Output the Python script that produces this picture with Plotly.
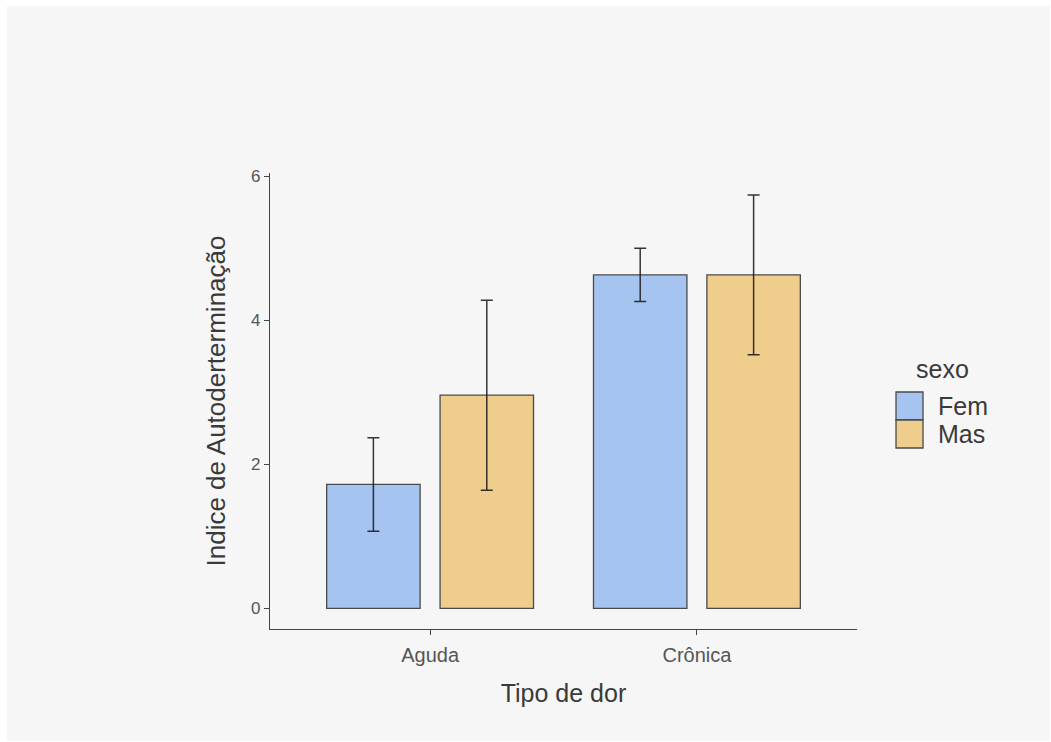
import plotly.graph_objects as go

categories = ["Aguda", "Crônica"]
series_names = ["Fem", "Mas"]
fem_means = [1.72, 4.63]
fem_errors = [0.65, 0.37]
mas_means = [2.96, 4.63]
mas_errors = [1.32, 1.11]
y_ticks = [0, 2, 4, 6]

colors = {"Fem": "#a6c4f0", "Mas": "#efcd8c"}
means = {"Fem": fem_means, "Mas": mas_means}
errors = {"Fem": fem_errors, "Mas": mas_errors}

FONT = "Liberation Sans, Arial, Helvetica, sans-serif"

# layout geometry (pixels)
W, H = 1051, 742
L, R, T, B = 270, 194, 173, 113
PW, PH = W - L - R, H - T - B


def px_x(px):
    return (px - L) / PW


def px_y(py):
    return (H - B - py) / PH


fig = go.Figure()
for name in series_names:
    fig.add_trace(go.Bar(
        x=categories, y=means[name], name=name,
        marker=dict(color=colors[name], line=dict(color="#4a4a4a", width=1.3)),
        error_y=dict(type="data", array=errors[name], visible=True,
                     color="rgba(20,20,20,0.85)", thickness=1.5, width=6),
        showlegend=False,
    ))

shapes = [dict(type="rect", xref="paper", yref="paper",
               x0=px_x(7), x1=px_x(1050), y0=px_y(741), y1=px_y(6),
               fillcolor="#f6f6f6", line=dict(width=0), layer="below")]
annotations = [dict(text="sexo", xref="paper", yref="paper", x=px_x(914), y=px_y(369),
                    xanchor="left", yanchor="middle", showarrow=False,
                    font=dict(family=FONT, size=25, color="#3a3a3a"))]
key_top = 392
key_h = 28
for i, name in enumerate(series_names):
    y0 = key_top + i * key_h
    shapes.append(dict(type="rect", xref="paper", yref="paper",
                       x0=px_x(896), x1=px_x(923), y0=px_y(y0 + key_h), y1=px_y(y0),
                       fillcolor=colors[name], line=dict(color="#4a4a4a", width=1.3)))
    annotations.append(dict(text=name, xref="paper", yref="paper", x=px_x(936),
                            y=px_y(y0 + key_h / 2), xanchor="left", yanchor="middle",
                            showarrow=False,
                            font=dict(family=FONT, size=25, color="#3a3a3a")))

fig.update_layout(
    width=W, height=H,
    margin=dict(l=L, r=R, t=T, b=B, autoexpand=False),
    paper_bgcolor="white", plot_bgcolor="rgba(0,0,0,0)",
    barmode="group", bargap=0.15, bargroupgap=0.176,
    font=dict(family=FONT, color="#4d4d4d"),
    shapes=shapes, annotations=annotations,
    xaxis=dict(range=[-0.6, 1.6], showline=True, linecolor="#444", linewidth=1.3,
               ticks="outside", ticklen=5, tickcolor="#444", tickwidth=1.3,
               showgrid=False, zeroline=False, ticklabelstandoff=3,
               tickfont=dict(family=FONT, size=20, color="#555"),
               title=dict(text="Tipo de dor", standoff=19,
                          font=dict(family=FONT, size=25, color="#3a3a3a"))),
    yaxis=dict(range=[-0.2875, 6.046], tickvals=y_ticks, showline=True,
               linecolor="#444", linewidth=1.3, ticks="outside", ticklen=5,
               tickcolor="#444", tickwidth=1.3, showgrid=False, zeroline=False,
               tickfont=dict(family=FONT, size=17, color="#555"),
               title=dict(text="Indice de Autoderterminação", standoff=17,
                          font=dict(family=FONT, size=26, color="#3a3a3a"))),
)

fig.write_html("out.html", config={"displayModeBar": False},
               post_script="document.body.style.margin='0';document.body.style.overflow='hidden';")
